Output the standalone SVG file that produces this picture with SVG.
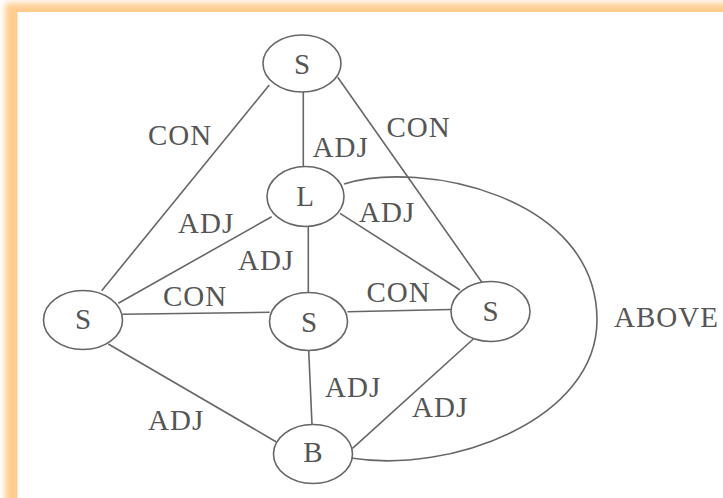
<svg xmlns="http://www.w3.org/2000/svg" width="723" height="498" viewBox="0 0 723 498">
<defs>
<filter id="glow" x="-10%" y="-10%" width="120%" height="120%"><feGaussianBlur stdDeviation="3"/></filter>
</defs>
<style>
.edge{stroke:#666;stroke-width:1.6;fill:none}
.node ellipse{fill:#fff;stroke:#666;stroke-width:1.6}
.nl{font-family:"Liberation Serif",serif;font-size:29px;fill:#555;text-anchor:middle}
.el{font-family:"Liberation Serif",serif;font-size:29px;fill:#555;letter-spacing:1px}
</style>
<rect x="0" y="0" width="723" height="498" fill="#fff"/>
<g id="frame">
<rect x="5" y="3" width="760" height="540" fill="#ffcc8e" filter="url(#glow)"/>
<rect x="17.5" y="12" width="760" height="540" fill="#fff"/>
</g>
<g id="connectors">
<line class="edge" x1="269.3" y1="85" x2="101.7" y2="290.7"/>
<line class="edge" x1="303.3" y1="92" x2="303.3" y2="166.5"/>
<line class="edge" x1="337.7" y1="77.3" x2="481.7" y2="282"/>
<line class="edge" x1="271.7" y1="216.7" x2="118.3" y2="303.3"/>
<line class="edge" x1="308.3" y1="226.5" x2="308.3" y2="292.5"/>
<line class="edge" x1="340" y1="213.3" x2="460" y2="290"/>
<line class="edge" x1="122.5" y1="314.3" x2="269.7" y2="312.3"/>
<line class="edge" x1="347.5" y1="311.7" x2="451.3" y2="309.5"/>
<line class="edge" x1="108.3" y1="344" x2="276" y2="441.7"/>
<line class="edge" x1="308.7" y1="350.5" x2="312" y2="424.5"/>
<line class="edge" x1="473.3" y1="339" x2="352.5" y2="448.3"/>
<path class="edge" d="M344,184 C420,160 597,195 597,320 C597,420 450,474 351,458"/>
<text class="el" x="148" y="144.5">CON</text>
<text class="el" x="386.5" y="137">CON</text>
<text class="el" x="312.5" y="156.5">ADJ</text>
<text class="el" x="359" y="221.5">ADJ</text>
<text class="el" x="178" y="232.5">ADJ</text>
<text class="el" x="238" y="269.5">ADJ</text>
<text class="el" x="163" y="305.5">CON</text>
<text class="el" x="366.5" y="302">CON</text>
<text class="el" x="325" y="396.5">ADJ</text>
<text class="el" x="412" y="417">ADJ</text>
<text class="el" x="148" y="429.5">ADJ</text>
<text class="el" x="614" y="326.5">ABOVE</text>
</g>
<g id="sTop" class="node"><ellipse cx="302" cy="63.5" rx="39" ry="28.5"/><text class="nl" x="302" y="73.5">S</text></g>
<g id="L" class="node"><ellipse cx="305.5" cy="196.5" rx="38.5" ry="30"/><text class="nl" x="305" y="205.5">L</text></g>
<g id="sLeft" class="node"><ellipse cx="83" cy="320" rx="39.5" ry="29.5"/><text class="nl" x="83" y="329">S</text></g>
<g id="sMid" class="node"><ellipse cx="308.5" cy="321.5" rx="39" ry="29"/><text class="nl" x="309" y="331.5">S</text></g>
<g id="sRight" class="node"><ellipse cx="490.5" cy="311.5" rx="39.5" ry="30"/><text class="nl" x="490.5" y="321">S</text></g>
<g id="B" class="node"><ellipse cx="313" cy="454" rx="39.5" ry="29.5"/><text class="nl" x="313" y="462">B</text></g>
</svg>
